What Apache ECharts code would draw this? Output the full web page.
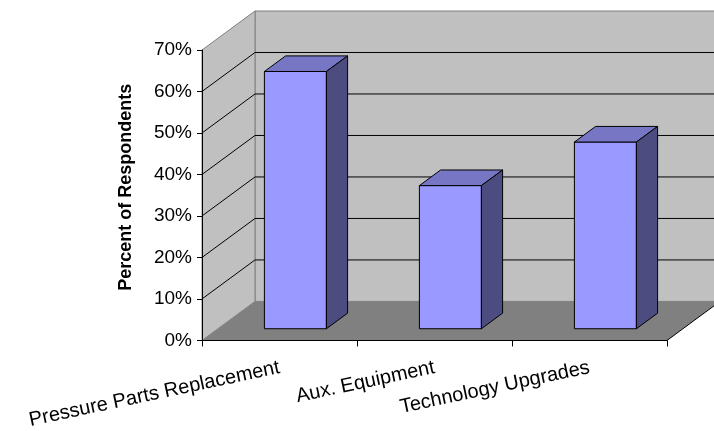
<!DOCTYPE html>
<html>
<head>
<meta charset="utf-8">
<script src="https://cdn.jsdelivr.net/npm/echarts@6/dist/echarts.min.js"></script>
<style>
  html, body { margin: 0; padding: 0; background: #ffffff; }
  #chart { width: 714px; height: 431px; }
</style>
</head>
<body>
<div id="chart"></div>
<script>
// Survey results: share of respondents planning each kind of work
const categories = ['Pressure Parts Replacement', 'Aux. Equipment', 'Technology Upgrades'];
const respondents = [62, 34.5, 45];
const yTicks = [0, 10, 20, 30, 40, 50, 60, 70];

// Pseudo-3D depth of the plot box (pixels) and bar placement within that depth
const DEPTH_X = 53, DEPTH_Y = -39;
const BAR_FRONT = 0.3, BAR_BACK = 0.7, BAR_HALF = 0.2;

const FONT = 'Liberation Sans, Arial, sans-serif';

const chart = echarts.init(document.getElementById('chart'), null, { renderer: 'canvas' });

// Walls, floor and 3D gridlines, positioned through the axis scales
function renderFrame(params, api) {
  const band = api.size([1, 0])[0];
  const n = categories.length;
  const x0 = api.coord([0, 0])[0] - band / 2;
  const x1 = api.coord([n - 1, 0])[0] + band / 2;
  const yMin = yTicks[0], yMax = yTicks[yTicks.length - 1];
  const yb = api.coord([0, yMin])[1];
  const yt = api.coord([0, yMax])[1];
  const dx = DEPTH_X, dy = DEPTH_Y;
  const children = [];
  // back wall
  children.push({ type: 'polygon', shape: { points: [[x0 + dx, yt + dy], [x1 + dx, yt + dy], [x1 + dx, yb + dy], [x0 + dx, yb + dy]] },
    style: { fill: '#c0c0c0', stroke: '#808080', lineWidth: 1 } });
  // side wall
  children.push({ type: 'polygon', shape: { points: [[x0, yb], [x0, yt], [x0 + dx, yt + dy], [x0 + dx, yb + dy]] },
    style: { fill: '#c0c0c0', stroke: '#808080', lineWidth: 1 } });
  // floor
  children.push({ type: 'polygon', shape: { points: [[x0, yb], [x1, yb], [x1 + dx, yb + dy], [x0 + dx, yb + dy]] },
    style: { fill: '#808080', stroke: null } });
  children.push({ type: 'line', shape: { x1: x1, y1: yb, x2: x1 + dx, y2: yb + dy },
    style: { stroke: '#000000', lineWidth: 1 } });
  // gridlines across side and back walls
  yTicks.slice(1, -1).forEach(function (v) {
    const y = api.coord([0, v])[1];
    children.push({ type: 'polyline', shape: { points: [[x0, y], [x0 + dx, y + dy], [x1 + dx, y + dy]] },
      style: { stroke: '#000000', lineWidth: 1, fill: null } });
  });
  return { type: 'group', children: children };
}

// One box per category: front face, top and right side
function renderBar(params, api) {
  const i = api.value(0);
  const v = api.value(1);
  const band = api.size([1, 0])[0];
  const top = api.coord([i, v]);
  const base = api.coord([i, 0]);
  const xl = top[0] - band * BAR_HALF;
  const xr = top[0] + band * BAR_HALF;
  const yt = top[1], yb = base[1];
  const ax = DEPTH_X * BAR_FRONT, ay = DEPTH_Y * BAR_FRONT;
  const bx = DEPTH_X * BAR_BACK, by = DEPTH_Y * BAR_BACK;
  const stroke = { stroke: '#000000', lineWidth: 1, lineJoin: 'miter' };
  return {
    type: 'group',
    children: [
      { type: 'polygon', shape: { points: [[xl + ax, yt + ay], [xr + ax, yt + ay], [xr + ax, yb + ay], [xl + ax, yb + ay]] },
        style: Object.assign({ fill: '#9999ff' }, stroke) },
      { type: 'polygon', shape: { points: [[xl + ax, yt + ay], [xr + ax, yt + ay], [xr + bx, yt + by], [xl + bx, yt + by]] },
        style: Object.assign({ fill: '#7676c4' }, stroke) },
      { type: 'polygon', shape: { points: [[xr + ax, yt + ay], [xr + bx, yt + by], [xr + bx, yb + by], [xr + ax, yb + ay]] },
        style: Object.assign({ fill: '#4c4c80' }, stroke) }
    ]
  };
}

chart.setOption({
  animation: false,
  backgroundColor: '#ffffff',
  grid: { left: 202, right: 47, top: 50, bottom: 90, containLabel: false },
  xAxis: {
    type: 'category',
    data: categories,
    z: 10,
    axisLine: { show: true, lineStyle: { color: '#000000', width: 1 } },
    axisTick: { show: true, length: 6, lineStyle: { color: '#000000' } },
    axisLabel: { rotate: 12, margin: 27, color: '#000000', fontFamily: FONT, fontSize: 20 }
  },
  yAxis: {
    type: 'value',
    min: yTicks[0],
    max: yTicks[yTicks.length - 1],
    interval: 10,
    z: 10,
    name: 'Percent of Respondents',
    nameLocation: 'middle',
    nameRotate: 90,
    nameGap: 67,
    nameTextStyle: { color: '#000000', fontFamily: FONT, fontSize: 18, fontWeight: 'bold', padding: [0, 0, 0, 16] },
    axisLine: { show: true, lineStyle: { color: '#000000', width: 1 } },
    axisTick: { show: true, length: 5, lineStyle: { color: '#000000' } },
    axisLabel: { formatter: '{value}%', margin: 10, color: '#000000', fontFamily: FONT, fontSize: 19 },
    splitLine: { show: false }
  },
  series: [
    {
      type: 'custom',
      name: 'frame',
      renderItem: renderFrame,
      data: [[0, 0]],
      clip: false,
      silent: true,
      z: 1
    },
    {
      type: 'custom',
      name: 'Percent of Respondents',
      renderItem: renderBar,
      data: respondents.map(function (v, i) { return [i, v]; }),
      encode: { x: 0, y: 1 },
      clip: false,
      z: 3
    }
  ]
});
</script>
</body>
</html>
